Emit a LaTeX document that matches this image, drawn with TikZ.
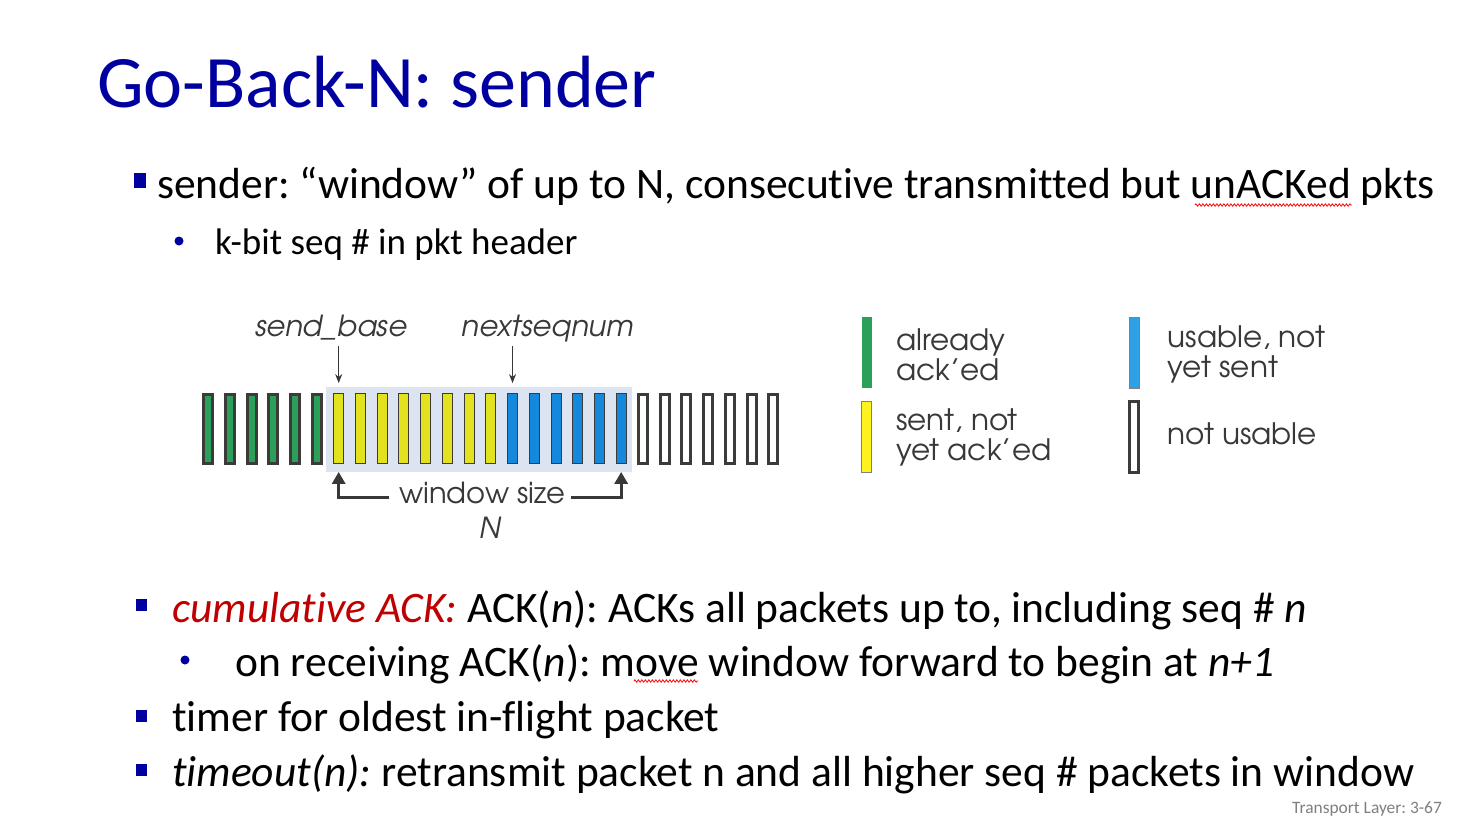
\documentclass[tikz,border=0pt]{standalone}
\usepackage{fontspec}
\setmainfont{Carlito}[Ligatures=NoCommon]
\newfontfamily\gothic{texgyreadventor}[Extension=.otf,UprightFont=*-regular,ItalicFont=*-italic]
\usetikzlibrary{positioning,arrows.meta,decorations.pathmorphing}
\frenchspacing

\definecolor{titleblue}{RGB}{0,0,160}
\definecolor{ackred}{RGB}{192,0,0}
\definecolor{pktline}{RGB}{61,59,58}
\definecolor{ackgreen}{RGB}{43,160,91}
\definecolor{sentyellow}{RGB}{226,226,30}
\definecolor{freeblue}{RGB}{20,136,220}
\definecolor{keyyellow}{RGB}{255,242,30}
\definecolor{keyblue}{RGB}{45,160,230}
\definecolor{winbg}{RGB}{221,228,241}
\definecolor{labelgray}{RGB}{58,56,55}
\definecolor{footgray}{RGB}{127,127,127}

\begin{document}
\begin{tikzpicture}[x=1pt,y=-1pt]
  \tikzstyle{txt}=[inner sep=0pt,anchor=base west,font=\fontsize{43.5}{50}\selectfont]
  \tikzstyle{lbl}=[inner sep=0pt,text=labelgray,font=\gothic\fontsize{29}{30}\selectfont]
  \tikzstyle{ilbl}=[lbl,font=\gothic\itshape\fontsize{29}{30}\selectfont]
  \tikzstyle{key}=[lbl,align=left,font=\gothic\fontsize{29.5}{30}\selectfont]
  \tikzstyle{pkt}=[draw=pktline,line width=3pt,minimum width=9pt,minimum height=69pt,inner sep=0pt]
  \tikzstyle{wpkt}=[draw=pktline,line width=0.8pt,minimum width=10pt,minimum height=70pt,inner sep=0pt]
  \tikzstyle{sq}=[fill=titleblue,minimum width=11pt,minimum height=12pt,inner sep=0pt]
  \tikzstyle{dot}=[circle,fill=titleblue,minimum size=9pt,inner sep=0pt]
  \tikzstyle{parr}=[draw=labelgray,line width=1pt,-{Stealth[length=9pt,width=7pt]}]
  \tikzstyle{warr}=[draw=labelgray,line width=3pt,-{Triangle[length=12pt,width=13pt]}]
  \tikzstyle{squig}=[red,line width=0.8pt,decorate,decoration={zigzag,amplitude=1.2pt,segment length=3.5pt}]
  \useasboundingbox[fill=white] (0,0) rectangle (1462,830);

  \node[txt,text=titleblue,font=\fontsize{74}{80}\selectfont] (title) at (97,107) {Go-Back-N: sender};

  \node[sq,minimum width=12pt,minimum height=15pt] (q1) at (139.5,180) {};
  \node[txt] (b1) at (157,198) {sender: “window” of up to N, consecutive transmitted but unACKed pkts};
  \draw[squig] (1195,205) -- (1352,205);
  \node[dot] (d1) at (179,241) {};
  \node[txt,font=\fontsize{37}{40}\selectfont] (b2) at (215,254) {k-bit seq \# in pkt header};

  % window of packets
  \node[fill=winbg,minimum width=306pt,minimum height=85pt,inner sep=0pt] (win) at (479,429.5) {};
  \foreach \i in {1,...,6}
    \node[pkt,fill=ackgreen] (p\i) at ({208.3+21.73*(\i-1)},428.5) {};
  \foreach \i in {7,...,14}
    \node[wpkt,fill=sentyellow] (p\i) at ({208.3+21.73*(\i-1)},428.5) {};
  \foreach \i in {15,...,20}
    \node[wpkt,fill=freeblue] (p\i) at ({208.3+21.73*(\i-1)},428.5) {};
  \foreach \i in {21,...,27}
    \node[pkt,fill=white] (p\i) at ({208.3+21.73*(\i-1)},428.5) {};

  \node[ilbl,anchor=base] (sb) at (331,336) {send\_base};
  \node[ilbl,anchor=base] (ns) at (547.5,336) {nextseqnum};
  \draw[parr,shorten <=6pt,shorten >=10pt] (sb.south -| p7.north) -- (p7.north);
  \draw[parr,shorten <=4pt,shorten >=10pt] (ns.south -| p15.north) -- (p15.north);

  \node[lbl,anchor=base] (ws) at (482.5,503) {window size};
  \node[ilbl,anchor=base] (wn) at (490,538) {N};
  \draw[warr,shorten >=8pt] ([shift={(-10pt,6pt)}]ws.base west) -| (p7.south);
  \draw[warr,shorten >=8pt] ([shift={(5pt,6pt)}]ws.base east) -| (p20.south);

  % legend
  \node[wpkt,draw=none,fill=ackgreen,minimum height=71pt] (k1) at (866.7,352.8) {};
  \node[wpkt,draw=gray,line width=0.5pt,fill=keyyellow,minimum height=71pt] (k2) at (866.7,437.2) {};
  \node[wpkt,draw=gray,line width=0.5pt,fill=keyblue,minimum height=71pt] (k3) at (1134.3,352.8) {};
  \node[pkt,fill=white,minimum height=71pt] (k4) at (1134.2,437) {};
  \node[key,right=24pt of k1,yshift=-2pt] (t1) {already\\ack’ed};
  \node[key,right=24pt of k2] (t2) {sent, not\\yet ack’ed};
  \node[key,right=28pt of k3,yshift=-2pt] (t3) {usable, not\\yet sent};
  \node[key,right=27pt of k4,yshift=3pt] (t4) {not usable};

  \node[sq] (q2) at (141,605) {};
  \node[txt] (b3) at (172,622) {\textcolor{ackred}{\textit{cumulative ACK:}} ACK(\textit{n}): ACKs all packets up to, including seq \# \textit{n}};
  \node[dot] (d2) at (185,660) {};
  \node[txt] (b4) at (235,676) {on receiving ACK(\textit{n}): move window forward to begin at \textit{n+1}};
  \draw[squig] (634,681) -- (698,681);
  \node[sq] (q3) at (141,716) {};
  \node[txt] (b5) at (172,731) {timer for oldest in-flight packet};
  \node[sq] (q4) at (141,770) {};
  \node[txt] (b6) at (172,786) {\textit{timeout(n):} retransmit packet n and all higher seq \# packets in window};

  \node[txt,text=footgray,font=\fontsize{17.4}{18}\selectfont] (foot) at (1292,813) {Transport Layer: 3-67};
\end{tikzpicture}
\end{document}
